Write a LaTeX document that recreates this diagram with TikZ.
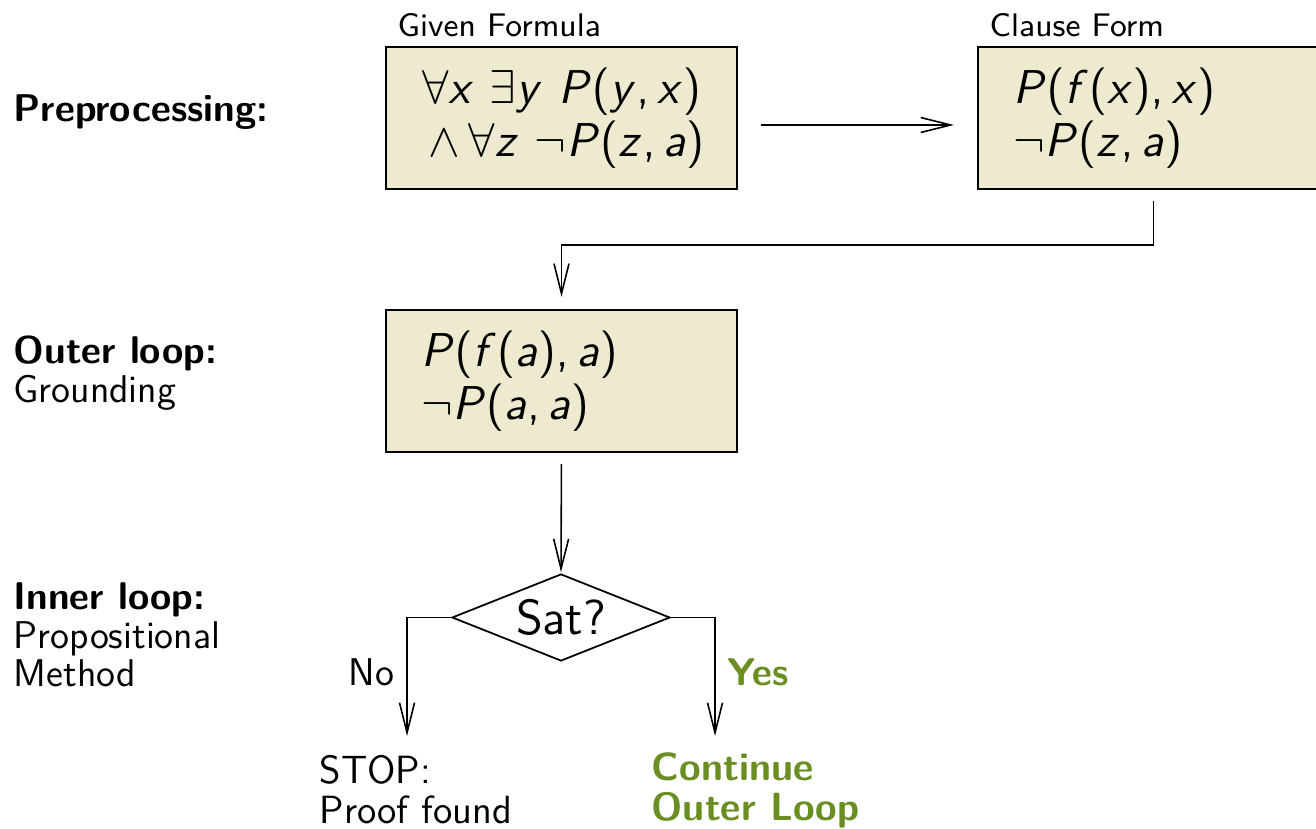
\RequirePackage{fix-cm}
\documentclass[tikz,border=0pt]{standalone}
\usetikzlibrary{shapes.geometric,arrows.meta}
\renewcommand{\familydefault}{\sfdefault}
% sans serif letters in formulas
\DeclareSymbolFont{sfupright}{OT1}{cmss}{m}{n}
\DeclareSymbolFont{sfslanted}{OT1}{cmss}{m}{sl}
\DeclareMathSymbol{a}{\mathalpha}{sfslanted}{`a}
\DeclareMathSymbol{f}{\mathalpha}{sfslanted}{`f}
\DeclareMathSymbol{x}{\mathalpha}{sfslanted}{`x}
\DeclareMathSymbol{y}{\mathalpha}{sfslanted}{`y}
\DeclareMathSymbol{z}{\mathalpha}{sfslanted}{`z}
\DeclareMathSymbol{P}{\mathalpha}{sfslanted}{`P}
\DeclareMathSymbol{,}{\mathpunct}{sfupright}{`,}
\DeclareMathDelimiter{(}{\mathopen}{sfupright}{"28}{largesymbols}{"00}
\DeclareMathDelimiter{)}{\mathclose}{sfupright}{"29}{largesymbols}{"01}
\definecolor{boxfill}{RGB}{237,234,207}
\definecolor{yesgreen}{RGB}{107,142,35}
\begin{document}
\begin{tikzpicture}[
    every node/.style={font=\fontsize{11}{11}\selectfont},
    box/.style={draw, line width=0.6pt, fill=boxfill, minimum width=3.51cm, minimum height=1.42cm,
      inner xsep=0.35cm, text width=2.81cm, font=\fontsize{13.5}{15}\selectfont},
    title/.style={anchor=west, inner sep=0pt, font=\fontsize{9.3}{10}\selectfont},
    side/.style={anchor=west, inner sep=0pt, align=left},
    result/.style={anchor=west, inner sep=0pt, align=left, font=\fontsize{11.2}{11.4}\selectfont},
    test/.style={draw, diamond, aspect=2.5, inner sep=0pt, line width=0.5pt,
      minimum width=2.18cm, minimum height=0.87cm, font=\fontsize{14}{15}\selectfont},
    flow/.style={-{Straight Barb[length=3mm,width=1.5mm]}, line width=0.45pt}]
  \useasboundingbox (0,0) rectangle (13.16,-8.29);
  \draw
    (0.13,-1.12) node[side] (pre){\textbf{Preprocessing:}}
    (0.13,-3.73) node[side] (outer){\textbf{Outer loop:}\\Grounding}
    (0.13,-6.35) node[side] (inner){\textbf{Inner loop:}\\Propositional\\Method}
    (3.97,-0.25) node[title] (giventitle){Given Formula}
    (9.89,-0.25) node[title] (clausetitle){Clause Form}
    (5.615,-1.18) node[box, align=center] (given){$\forall x\ \exists y\ P(y,x)$\\ $\,\wedge\,\forall z\ \neg P(z,a)$}
    (11.535,-1.18) node[box, align=left] (clause){$P(f(x),x)$\\$\neg P(z,a)$}
    (5.615,-3.81) node[box, align=left] (ground){$P(f(a),a)$\\$\neg P(a,a)$}
    (5.61,-6.175) node[test] (sat){Sat?}
    (3.95,-6.72) node[anchor=east, inner sep=0pt] (no){No}
    (7.27,-6.72) node[anchor=west, inner sep=0pt, text=yesgreen] (yes){\textbf{Yes}}
    (3.19,-7.90) node[result] (stop){STOP:\\Proof found}
    (6.51,-7.90) node[result, text=yesgreen] (cont){\textbf{Continue}\\\textbf{Outer Loop}};
  \coordinate (nohead) at (4.07,-7.36);
  \coordinate (yeshead) at (7.15,-7.36);
  \begin{scope}[flow]
    \draw[shorten <=0.23cm, shorten >=0.23cm] ([yshift=-0.07cm]given.east) -- ([yshift=-0.07cm]clause.west);
    \draw[shorten <=0.11cm, shorten >=0.12cm] (clause.south) -- ++(0,-0.55) -| (ground.north);
    \draw[shorten <=0.11cm, shorten >=0.01cm] (ground.south) -- (sat.north);
    \draw (sat.west) -| (nohead);
    \draw (sat.east) -| (yeshead);
  \end{scope}
\end{tikzpicture}
\end{document}
